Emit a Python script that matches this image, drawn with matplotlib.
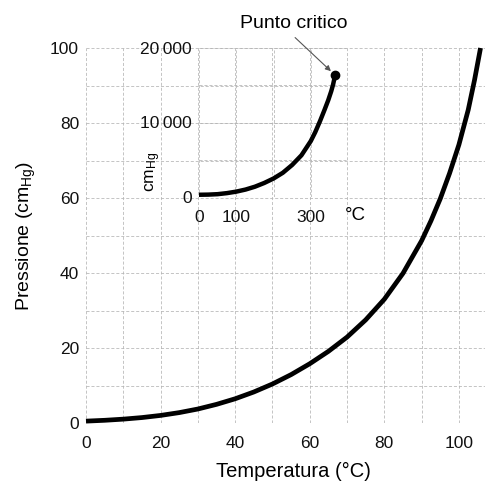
import matplotlib
matplotlib.use("Agg")
import matplotlib.pyplot as plt

# Main chart: vapour pressure of water (cmHg) vs temperature (°C)
temp_main = [0, 5, 10, 15, 20, 25, 30, 35, 40, 45, 50, 55, 60, 65, 70, 75,
             80, 85, 90, 92.5, 95, 97.5, 100, 102.5, 104.2, 105.8]
press_main = [0.5, 0.72, 1.03, 1.45, 2.02, 2.77, 3.73, 4.97, 6.46, 8.27, 10.4, 12.9, 15.8, 19.1,
              22.9, 27.5, 33.0, 39.9, 48.6, 53.9, 59.8, 66.6, 74.2, 83.5, 91.5, 100.0]
main_xticks = [0, 20, 40, 60, 80, 100]
main_yticks = [0, 20, 40, 60, 80, 100]

# Inset: up to the critical point
temp_inset = [0, 25, 50, 75, 100, 125, 150, 175, 200, 225, 250, 275, 300, 312, 325, 337,
              347, 355, 360, 363, 365]
press_inset = [300, 320, 380, 520, 720, 1000, 1380, 1880, 2480, 3250, 4300, 5600, 7500, 8700,
               10200, 11700, 13000, 14200, 15100, 15800, 16380]
critical_point = (365, 16380)
inset_xticklabels = ["0", "100", "", "300", ""]
inset_yticklabels = ["0", "", "10\u2009000", "", "20\u2009000"]

plt.rcParams["font.family"] = ["Liberation Sans", "DejaVu Sans"]
plt.rcParams["mathtext.fontset"] = "custom"
plt.rcParams["mathtext.rm"] = "Liberation Sans"
plt.rcParams["mathtext.it"] = "Liberation Sans:italic"

W, H = 490, 482
fig = plt.figure(figsize=(W / 100, H / 100), dpi=100)

grid_kw = dict(color="#b4b4b4", linestyle=(0, (4, 2.5)), linewidth=0.55)

def px_axes(x0, y0, x1, y1):
    return [x0 / W, (H - y1) / H, (x1 - x0) / W, (y1 - y0) / H]

ax = fig.add_axes(px_axes(86, 48, 485, 423))
ax.plot(temp_main, press_main, color="black", lw=3.4, solid_capstyle="butt",
        solid_joinstyle="round", clip_on=False, zorder=3)
ax.set_xlim(0, 107)
ax.set_ylim(0, 100)
ax.set_xticks(list(range(0, 107, 10)))
ax.set_yticks(list(range(0, 101, 10)))
ax.set_xticklabels([str(t) if t in main_xticks else "" for t in range(0, 107, 10)])
ax.set_yticklabels([str(t) if t in main_yticks else "" for t in range(0, 101, 10)])
ax.tick_params(length=0, labelsize=12.5, colors="#111111")
ax.tick_params(axis="x", pad=9)
ax.tick_params(axis="y", pad=5)
ax.grid(True, **grid_kw)
for s in ax.spines.values():
    s.set_visible(False)
ax.set_xlabel("Temperatura (°C)", fontsize=14.5)
ax.xaxis.set_label_coords(0.519, -0.103)
ax.set_ylabel("Pressione (cm$_{\\mathrm{Hg}}$)", fontsize=14)
ax.yaxis.set_label_coords(-0.12, 0.5)

# Inset
ins = fig.add_axes(px_axes(199, 48, 348, 197))
ins.patch.set_alpha(0)
ins.plot(temp_inset, press_inset, color="black", lw=3.2, solid_capstyle="butt",
         solid_joinstyle="round", zorder=3)
ins.plot([critical_point[0]], [critical_point[1]], "o", color="black", ms=6, zorder=4)
ins.set_xlim(0, 400)
ins.set_ylim(0, 20000)
ins.set_xticks(list(range(0, 401, 100)))
ins.set_xticklabels(inset_xticklabels)
ins.set_yticks(list(range(0, 20001, 5000)))
ins.set_yticklabels(inset_yticklabels)
ins.tick_params(length=0, labelsize=12.5, colors="#111111")
ins.tick_params(axis="x", pad=9)
ins.tick_params(axis="y", pad=5)
ins.grid(True, **grid_kw)
for s in ins.spines.values():
    s.set_visible(False)
ins.text(420, -2550, "°C", fontsize=13.5, ha="center", va="center")
ins.text(-0.31, 0.17, "cm$_{\\mathrm{Hg}}$", fontsize=12.5, rotation=90,
         ha="center", va="center", transform=ins.transAxes)
ins.text(255, 23300, "Punto critico", fontsize=14, ha="center", va="center")
ins.annotate("", xy=critical_point, xytext=(258, 21400),
             arrowprops=dict(arrowstyle="-|>", color="#555555", lw=0.8,
                             shrinkA=0, shrinkB=4, mutation_scale=8),
             annotation_clip=False)

fig.savefig("out.png", dpi=100)
